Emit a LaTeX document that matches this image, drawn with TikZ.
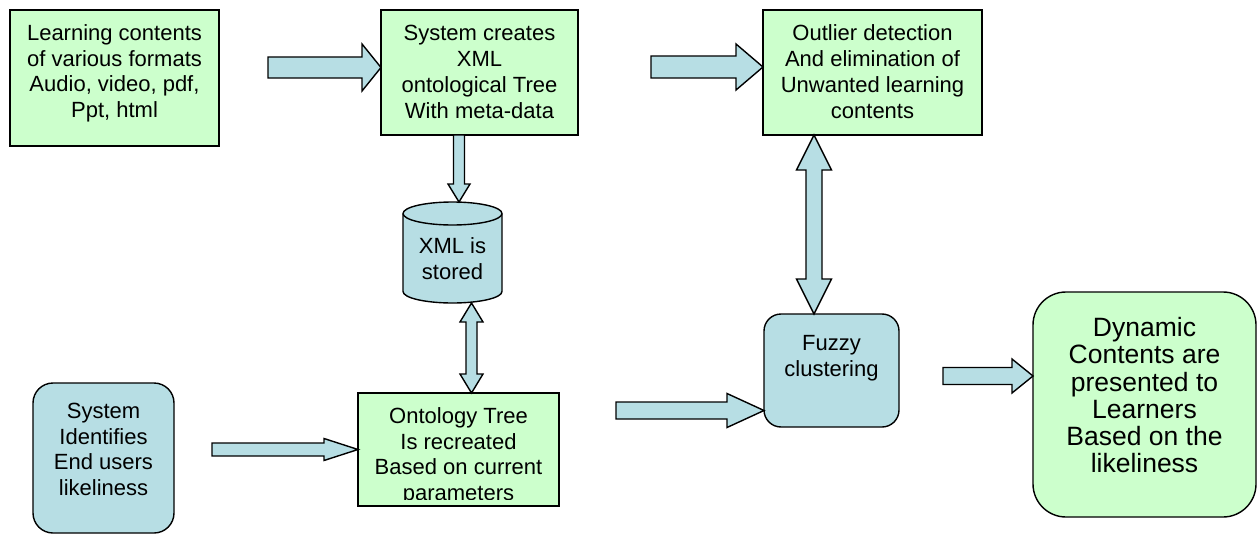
\documentclass[tikz,border=0pt]{standalone}
\usepackage{fontspec}
\setmainfont{Liberation Sans}
\usetikzlibrary{calc}

\definecolor{boxgreen}{RGB}{204,255,204}
\definecolor{boxblue}{RGB}{183,222,228}

\tikzset{
  outline/.style={draw=black, line width=1.4pt, line join=miter},
  gbox/.style={outline, fill=boxgreen, rectangle, inner sep=0pt, outer sep=0pt},
  bbox/.style={outline, fill=boxblue, rectangle, rounded corners=#1, inner sep=0pt, outer sep=0pt},
  ground/.style={outline, fill=boxgreen, rectangle, rounded corners=#1, inner sep=0pt, outer sep=0pt},
  blk/.style={outline, fill=boxblue},
  txt/.style={anchor=north, inner sep=0pt, align=center, font=\fontsize{22}{25.8}\selectfont},
  bigtxt/.style={anchor=north, inner sep=0pt, align=center, font=\fontsize{26.5}{27.2}\selectfont},
}
% fixed height for the first text line, so every block starts at a known baseline
\newcommand\firstline{\rule{0pt}{20pt}}

% block arrow pointing right: tail, tip, shaft half width, head half width, head length
\newcommand\blockright[5]{%
  \path[blk] let \p1=(#1), \p2=(#2) in
    (\x1,\y2+#3pt) -- (\x2-#5pt,\y2+#3pt) -- (\x2-#5pt,\y2+#4pt) -- (\x2,\y2)
    -- (\x2-#5pt,\y2-#4pt) -- (\x2-#5pt,\y2-#3pt) -- (\x1,\y2-#3pt) -- cycle;}
% block arrow pointing down
\newcommand\blockdown[5]{%
  \path[blk] let \p1=(#1), \p2=(#2) in
    (\x2-#3pt,\y1) -- (\x2-#3pt,\y2+#5pt) -- (\x2-#4pt,\y2+#5pt) -- (\x2,\y2)
    -- (\x2+#4pt,\y2+#5pt) -- (\x2+#3pt,\y2+#5pt) -- (\x2+#3pt,\y1) -- cycle;}
% vertical block arrow with heads at both ends: upper tip, lower tip
\newcommand\blockboth[5]{%
  \path[blk] let \p1=(#1), \p2=(#2) in
    (\x1,\y1) -- (\x1+#4pt,\y1-#5pt) -- (\x1+#3pt,\y1-#5pt) -- (\x1+#3pt,\y2+#5pt)
    -- (\x1+#4pt,\y2+#5pt) -- (\x1,\y2) -- (\x1-#4pt,\y2+#5pt) -- (\x1-#3pt,\y2+#5pt)
    -- (\x1-#3pt,\y1-#5pt) -- (\x1-#4pt,\y1-#5pt) -- cycle;}

\begin{document}
\begin{tikzpicture}[x=1pt, y=-1pt]
\useasboundingbox (0,0) rectangle (1258,535);

% ---- boxes ----
\node[gbox, minimum width=209pt, minimum height=136pt] (src) at (114.5,78) {};
\node[gbox, minimum width=197pt, minimum height=125pt] (xml) at (479.5,72.5) {};
\node[gbox, minimum width=219pt, minimum height=125pt] (outl) at (872.5,72.5) {};
\node[gbox, minimum width=201pt, minimum height=113pt] (onto) at (458.5,449.5) {};
\node[bbox=20pt, minimum width=141pt, minimum height=150pt] (user) at (103.5,458) {};
\node[bbox=17pt, minimum width=135pt, minimum height=113pt] (fuzzy) at (831.5,370.5) {};
\node[ground=33pt, minimum width=223pt, minimum height=225pt] (dyn) at (1144.5,404.5) {};

% ---- storage cylinder ----
\node[inner sep=0pt, outer sep=0pt, minimum width=99pt, minimum height=101pt] (cyl) at (452.5,252.5) {};
\path[outline, fill=boxblue]
  (403,213.5) -- (403,291.5)
  arc[start angle=180, end angle=0, x radius=49.5, y radius=11.5]
  -- (502,213.5)
  arc[start angle=0, end angle=-180, x radius=49.5, y radius=11.5] -- cycle;
\draw[outline] (403,213.5) arc[start angle=180, end angle=0, x radius=49.5, y radius=11.5];

% ---- texts ----
\node[txt] (srct) at ($(src.north)+(0,10)$)
  {\firstline Learning contents\\of various formats\\Audio, video, pdf,\\Ppt, html};
\node[txt] (xmlt) at ($(xml.north)+(0,10.5)$)
  {\firstline System creates\\XML\\ontological Tree\\With meta-data};
\node[txt] (outlt) at ($(outl.north)+(0,10.5)$)
  {\firstline Outlier detection\\And elimination of\\Unwanted learning\\contents};
\node[txt] (cylt) at ($(cyl.north)+(0,31)$) {\firstline XML is\\stored};
\node[txt] (usert) at ($(user.north)+(0,15)$)
  {\firstline System\\Identifies\\End users\\likeliness};
\node[txt] (fuzzyt) at ($(fuzzy.north)+(0,16)$) {\firstline Fuzzy\\clustering};
\node[bigtxt] (dynt) at ($(dyn.north)+(0,24.5)$)
  {\firstline Dynamic\\Contents are\\presented to\\Learners\\Based on the\\likeliness};
\begin{scope}
  \clip (onto.north west) rectangle ($(onto.south east)+(0,-7)$);
  \node[txt] (ontot) at ($(onto.north)+(0,10)$)
    {\firstline Ontology Tree\\Is recreated\\Based on current\\parameters};
\end{scope}

% ---- block arrows ----
\coordinate (a1) at (268,67.5);
\blockright{a1}{xml.west |- a1}{10.5}{23.5}{19}
\coordinate (a2) at (651,67);
\blockright{a2}{outl.west |- a2}{11}{23}{27}
\coordinate (a3) at (459,0);
\blockdown{xml.south -| a3}{cyl.north -| a3}{5.5}{11}{18}
\coordinate (a4) at (471.5,0);
\blockboth{cyl.south -| a4}{onto.north -| a4}{5.5}{11.5}{19}
\coordinate (a5) at (814,0);
\blockboth{outl.south -| a5}{fuzzy.north -| a5}{8}{17.5}{35}
\coordinate (a6) at (212,449.5);
\blockright{a6}{onto.west |- a6}{6.5}{11}{34}
\coordinate (a7) at (616,410.5);
\blockright{a7}{fuzzy.west |- a7}{8.5}{17}{37}
\coordinate (a8) at (943,376);
\blockright{a8}{dyn.west |- a8}{8.5}{17}{21}
\end{tikzpicture}
\end{document}
